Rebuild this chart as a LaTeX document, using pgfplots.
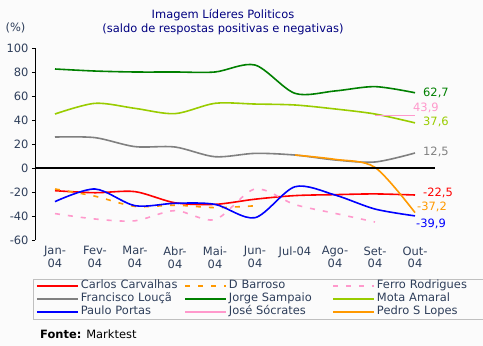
\documentclass[border=0pt]{standalone}
\usepackage{fontspec}
\setmainfont{DejaVu Sans}
\usepackage{pgfplots}
\pgfplotsset{compat=1.18}
\definecolor{txt}{RGB}{46,62,90}
\definecolor{navy}{RGB}{0,0,128}
\definecolor{cred}{RGB}{255,0,0}
\definecolor{corange}{RGB}{255,153,0}
\definecolor{cpink}{RGB}{255,153,204}
\definecolor{cgray}{RGB}{128,128,128}
\definecolor{cgreen}{RGB}{0,128,0}
\definecolor{cyg}{RGB}{153,204,0}
\definecolor{cblue}{RGB}{0,0,255}
\definecolor{bg}{RGB}{251,251,251}
\definecolor{lborder}{RGB}{192,192,192}
\newcommand{\fs}{\fontsize{11.5}{13}\selectfont}
\begin{document}
\begin{tikzpicture}
\fill[bg] (0,0) rectangle (483bp,346bp);
\path[use as bounding box] (0,0) rectangle (483bp,346bp);
\node[text=navy, font=\fs] at (223bp,331bp) {Imagem Líderes Politicos};
\node[text=navy, font=\fs] at (223bp,317bp) {(saldo de respostas positivas e negativas)};
\node[text=txt, font=\fs] at (15.5bp,318bp) {(\%)};
\node[anchor=west, font=\fs, inner sep=0pt] at (40bp,12bp) {\textbf{Fonte:} Marktest};
\begin{axis}[at={(35bp,106bp)}, anchor=south west, scale only axis,
  width=400bp, height=192bp,
  xmin=-0.5, xmax=9.5, ymin=-60, ymax=100,
  axis y line*=left, axis x line*=bottom,
  x axis line style={draw=none},
  y axis line style={-, black, line width=0.8bp},
  ytick={-60,-40,...,100}, tick align=outside, major tick length=3bp,
  ytick style={black, line width=0.8bp},
  xtick={0,...,9}, xtick style={draw=none},
  xticklabels={{Jan-\\04},{Fev-\\04},{Mar-\\04},{Abr-\\04},{Mai-\\04},{Jun-\\04},{Jul-04},{Ago-\\04},{Set-\\04},{Out-\\04}},
  xticklabel style={align=center, font=\fs, text=txt},
  yticklabel style={font=\fs, text=txt},
  /pgf/number format/assume math mode=true,
  clip=false,
  legend columns=3,
  legend style={at={(-0.005,-0.203)}, anchor=north west, draw=lborder, fill=none,
    font=\fs, text=txt, inner xsep=3bp, inner ysep=0.5bp, row sep=0pt,
    /tikz/every even column/.append style={column sep=0pt},
    nodes={inner xsep=2bp, inner ysep=1.25bp, text width=101.5bp, align=left, text height=8bp, text depth=2.5bp}},
  legend cell align=left,
  legend image code/.code={\draw[#1] (0bp,0bp) -- (41bp,0bp);},
  every axis plot/.append style={line width=1.6bp, smooth},
]
\addplot[cred] coordinates {(0,-18.9)(1,-20.6)(2,-19.7)(3,-29)(4,-30.3)(5,-26)(6,-23)(7,-22.2)(8,-21.6)(9,-22.5)};
\addlegendentry{Carlos Carvalhas}
\addplot[corange, dash pattern=on 5bp off 8bp] coordinates {(0,-17.5)(1,-23.5)(2,-32)(3,-31)(4,-33)(5,-31.5)};
\addlegendentry{D Barroso}
\addplot[cpink, dash pattern=on 5bp off 8bp] coordinates {(0,-38)(1,-42.5)(2,-44)(3,-35.5)(4,-43)(5,-17.5)(6,-30.5)(7,-37.8)(8,-45)};
\addlegendentry{Ferro Rodrigues}
\addplot[cgray] coordinates {(0,25.8)(1,25.3)(2,17.8)(3,17.5)(4,9.4)(5,12.2)(6,10.8)(7,6.7)(8,5)(9,12.5)};
\addlegendentry{Francisco Louçã}
\addplot[cgreen] coordinates {(0,82.5)(1,80.8)(2,80)(3,80)(4,80)(5,85.8)(6,62.2)(7,64.2)(8,67.8)(9,62.7)};
\addlegendentry{Jorge Sampaio}
\addplot[cyg] coordinates {(0,45)(1,53.9)(2,49.7)(3,45.3)(4,53.9)(5,53.3)(6,52.5)(7,49.2)(8,45)(9,37.6)};
\addlegendentry{Mota Amaral}
\addplot[cblue] coordinates {(0,-28)(1,-17.5)(2,-31.4)(3,-29.4)(4,-30.3)(5,-41.4)(6,-15.6)(7,-22.5)(8,-34.2)(9,-39.9)};
\addlegendentry{Paulo Portas}
\addplot[cpink] coordinates {(8,43.9)(9,43.9)};
\addlegendentry{José Sócrates}
\addplot[corange] coordinates {(6,10.8)(7,7.2)(8,0.5)(9,-37.2)};
\addlegendentry{Pedro S Lopes}
\draw[black, line width=2bp] (axis cs:-0.5,0) -- (axis cs:9.5,0);
\begin{scope}[every node/.style={font=\fs, inner sep=0pt, anchor=west}]
\node[text=cgreen] at ([xshift=8bp]axis cs:9,62.7) {62,7};
\node[text=cpink] at ([xshift=-2bp,yshift=7bp]axis cs:9,43.9) {43,9};
\node[text=cyg] at ([xshift=8bp,yshift=1bp]axis cs:9,37.6) {37,6};
\node[text=cgray] at ([xshift=8bp,yshift=1bp]axis cs:9,12.5) {12,5};
\node[text=cred] at ([xshift=8bp,yshift=2bp]axis cs:9,-22.5) {-22,5};
\node[text=corange] at ([xshift=2bp,yshift=6bp]axis cs:9,-37.2) {-37,2};
\node[text=cblue] at ([xshift=1bp,yshift=-8bp]axis cs:9,-39.9) {-39,9};
\end{scope}
\end{axis}
\end{tikzpicture}
\end{document}
